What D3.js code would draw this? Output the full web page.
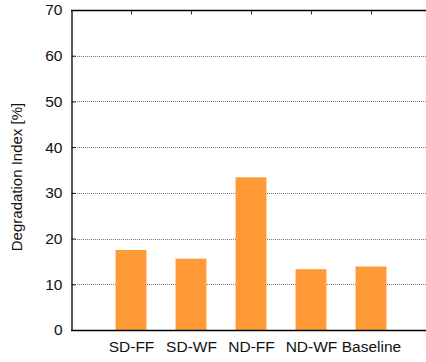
<!DOCTYPE html>
<html>
<head>
<meta charset="utf-8">
<script src="https://cdn.jsdelivr.net/npm/d3@7/dist/d3.min.js"></script>
<style>
  html, body { margin: 0; padding: 0; background: #fff; }
  svg { display: block; font-family: "Liberation Sans", Arial, Helvetica, sans-serif; }
</style>
</head>
<body>
<svg id="chart" width="426" height="362"></svg>
<script>
// Degradation index per configuration
const categories = ["SD-FF", "SD-WF", "ND-FF", "ND-WF", "Baseline"];
const degradation = [17.5, 15.6, 33.4, 13.3, 13.9];
const yTicks = [0, 10, 20, 30, 40, 50, 60, 70];
const yTitle = "Degradation Index [%]";

const width = 426, height = 362;
const margin = { left: 71, top: 10, bottom: 32 };
const plotBottom = height - margin.bottom;

const svg = d3.select("#chart");

// x runs by category index; the frame spans one slot before the first bar
// and continues past the right edge of the canvas
const x = d3.scaleLinear().domain([-1, 5]).range([margin.left, margin.left + 360]);
const y = d3.scaleLinear().domain([0, 70]).range([plotBottom, margin.top]);

const slot = x(1) - x(0);
const barW = slot * 0.515;

// dotted grid
svg.append("g")
  .selectAll("line")
  .data(yTicks.filter(t => t > 0 && t < 70))
  .join("line")
  .attr("x1", margin.left + 4)
  .attr("x2", width)
  .attr("y1", d => Math.round(y(d)) + 0.5)
  .attr("y2", d => Math.round(y(d)) + 0.5)
  .attr("stroke", "#777")
  .attr("stroke-width", 1)
  .attr("stroke-dasharray", "1,1");

// bars
svg.append("g")
  .selectAll("rect")
  .data(degradation)
  .join("rect")
  .attr("x", (d, i) => x(i) - barW / 2)
  .attr("width", barW)
  .attr("y", d => y(d))
  .attr("height", d => y(0) - y(d))
  .attr("fill", "#ff9a36");

// left axis with inward ticks
const yAxis = d3.axisLeft(y)
  .tickValues(yTicks)
  .tickFormat(d3.format("d"))
  .tickSizeInner(-4)
  .tickSizeOuter(0)
  .tickPadding(9);

const gy = svg.append("g")
  .attr("transform", `translate(${margin.left + 0.5},0)`)
  .call(yAxis);
gy.select(".domain").attr("stroke", "#000").attr("stroke-width", 1.3);
gy.selectAll(".tick line").attr("stroke", "#000");
gy.selectAll(".tick text")
  .attr("font-size", 15.5)
  .attr("fill", "#111")
  .attr("font-family", "'Liberation Sans', Arial, sans-serif");

// bottom axis: category labels
const xAxis = d3.axisBottom(x)
  .tickValues(d3.range(categories.length))
  .tickFormat(i => categories[i])
  .tickSizeInner(0)
  .tickSizeOuter(0)
  .tickPadding(10);

const gx = svg.append("g")
  .attr("transform", `translate(0,${plotBottom + 0.5})`)
  .call(xAxis);
gx.select(".domain").remove();
gx.append("line")
  .attr("x1", margin.left).attr("x2", width)
  .attr("y1", 0).attr("y2", 0)
  .attr("stroke", "#000").attr("stroke-width", 1.6);
gx.selectAll(".tick text")
  .attr("font-size", 15.5)
  .attr("fill", "#111")
  .attr("font-family", "'Liberation Sans', Arial, sans-serif");

// top border with mirrored category ticks
const xTop = d3.axisTop(x)
  .tickValues(d3.range(categories.length))
  .tickFormat("")
  .tickSizeInner(-4)
  .tickSizeOuter(0);
const gt = svg.append("g")
  .attr("transform", `translate(0,${margin.top + 0.5})`)
  .call(xTop);
gt.select(".domain").remove();
gt.append("line")
  .attr("x1", margin.left).attr("x2", width)
  .attr("y1", 0).attr("y2", 0)
  .attr("stroke", "#000").attr("stroke-width", 1.3);
gt.selectAll(".tick line").attr("stroke", "#333");

// y title
svg.append("text")
  .attr("transform", `translate(22,${(margin.top + plotBottom) / 2 + 7}) rotate(-90)`)
  .attr("text-anchor", "middle")
  .attr("font-size", 15)
  .attr("fill", "#111")
  .text(yTitle);
</script>
</body>
</html>
